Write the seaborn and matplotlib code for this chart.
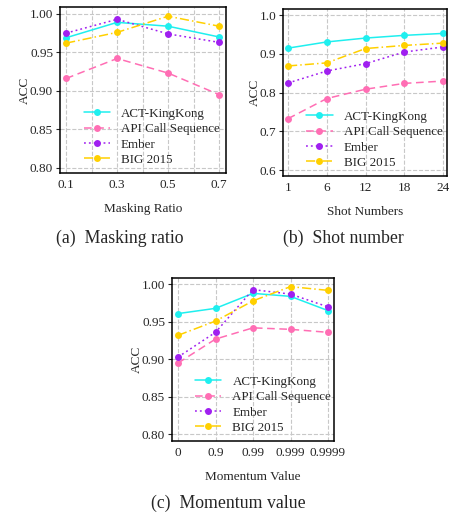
import numpy as np
import pandas as pd
import matplotlib
matplotlib.use('Agg')
import matplotlib.pyplot as plt
import seaborn as sns

# data
methods = ['ACT-KingKong', 'API Call Sequence', 'Ember', 'BIG 2015']

mask_ratio = [0.1, 0.3, 0.5, 0.7]
mask_act = [0.969, 0.989, 0.984, 0.970]
mask_api = [0.916, 0.942, 0.923, 0.895]
mask_ember = [0.975, 0.993, 0.974, 0.963]
mask_big = [0.962, 0.976, 0.997, 0.984]

shot_labels = ['1', '6', '12', '18', '24']
shot_act = [0.915, 0.931, 0.941, 0.948, 0.953]
shot_api = [0.733, 0.785, 0.809, 0.824, 0.830]
shot_ember = [0.825, 0.856, 0.875, 0.905, 0.918]
shot_big = [0.869, 0.877, 0.914, 0.922, 0.928]

mom_labels = ['0', '0.9', '0.99', '0.999', '0.9999']
mom_act = [0.961, 0.968, 0.988, 0.984, 0.965]
mom_api = [0.895, 0.927, 0.942, 0.940, 0.936]
mom_ember = [0.903, 0.936, 0.993, 0.987, 0.970]
mom_big = [0.932, 0.951, 0.978, 0.997, 0.992]

colors = {'ACT-KingKong': '#1FEFEF', 'API Call Sequence': '#FF6EB4',
          'Ember': '#A020F0', 'BIG 2015': '#FFD000'}
dashes = {'ACT-KingKong': '', 'API Call Sequence': (5, 3),
          'Ember': (1.2, 2), 'BIG 2015': (6, 2, 1, 2)}
markers = {m: 'o' for m in methods}

sns.set_style('ticks', {'axes.grid': True, 'grid.linestyle': '--',
                        'grid.color': '#C8C8C8', 'axes.edgecolor': 'black'})
plt.rcParams['font.family'] = ['Liberation Serif', 'DejaVu Serif']
plt.rcParams['font.size'] = 9.5


def long_df(x, series):
    rows = []
    for name, vals in zip(methods, series):
        for xi, v in zip(x, vals):
            rows.append({'x': xi, 'acc': v, 'method': name})
    return pd.DataFrame(rows)


def draw(ax, df):
    sns.lineplot(data=df, x='x', y='acc', hue='method', style='method',
                 hue_order=methods, style_order=methods, palette=colors,
                 dashes=dashes, markers=markers, markersize=5,
                 markeredgewidth=0, linewidth=1.1, ax=ax)
    ax.set_ylabel('ACC', fontsize=9.5, labelpad=-1)
    ax.tick_params(axis='both', labelsize=9.5, length=3, width=0.8, pad=2)
    ax.tick_params(axis='x', length=0, pad=4)
    for s in ax.spines.values():
        s.set_linewidth(1.1)
    ax.legend(loc='lower left', bbox_to_anchor=(0.095, -0.005), frameon=False,
              fontsize=9.4, handlelength=2.0, handletextpad=0.85,
              labelspacing=0.25, borderaxespad=0.2)


fig = plt.figure(figsize=(4.49, 5.2), dpi=100)
W, H = 449, 520

# (a) masking ratio
ax1 = fig.add_axes([60 / W, 1 - 173 / H, 166 / W, 166 / H])
draw(ax1, long_df(mask_ratio, [mask_act, mask_api, mask_ember, mask_big]))
ax1.set_xlim(0.076, 0.727)
ax1.set_ylim(0.793, 1.009)
ax1.set_xticks(mask_ratio)
ax1.set_xticks([0.2, 0.4, 0.6], minor=True)
ax1.tick_params(axis='x', which='minor', length=0)
ax1.grid(True, which='minor', axis='x', linestyle='--', color='#C8C8C8')
ax1.set_yticks([0.80, 0.85, 0.90, 0.95, 1.00])
ax1.set_yticklabels(['0.80', '0.85', '0.90', '0.95', '1.00'])
ax1.set_xlabel('Masking Ratio', fontsize=9.5, labelpad=9)

# (b) shot number
ax2 = fig.add_axes([283 / W, 1 - 176 / H, 164 / W, 167 / H])
draw(ax2, long_df(range(len(shot_labels)),
                  [shot_act, shot_api, shot_ember, shot_big]))
ax2.set_xlim(-0.13, 4.1)
ax2.set_ylim(0.585, 1.016)
ax2.set_xticks(range(len(shot_labels)))
ax2.set_xticklabels(shot_labels)
ax2.set_yticks([0.6, 0.7, 0.8, 0.9, 1.0])
ax2.set_yticklabels(['0.6', '0.7', '0.8', '0.9', '1.0'])
ax2.set_xlabel('Shot Numbers', fontsize=9.5, labelpad=9)

# (c) momentum value
ax3 = fig.add_axes([172 / W, 1 - 441 / H, 162 / W, 163 / H])
draw(ax3, long_df(range(len(mom_labels)),
                  [mom_act, mom_api, mom_ember, mom_big]))
ax3.set_xlim(-0.16, 4.16)
ax3.set_ylim(0.791, 1.0085)
ax3.set_xticks(range(len(mom_labels)))
ax3.set_xticklabels(mom_labels)
ax3.set_yticks([0.80, 0.85, 0.90, 0.95, 1.00])
ax3.set_yticklabels(['0.80', '0.85', '0.90', '0.95', '1.00'])
ax3.set_xlabel('Momentum Value', fontsize=9.5, labelpad=9)

# captions
fig.text(120 / W, 1 - 238 / H, '(a)  Masking ratio', ha='center', va='center', fontsize=12.8)
fig.text(343 / W, 1 - 238 / H, '(b)  Shot number', ha='center', va='center', fontsize=12.8)
fig.text(228 / W, 1 - 503 / H, '(c)  Momentum value', ha='center', va='center', fontsize=12.8)

fig.savefig('out.png', dpi=100)
